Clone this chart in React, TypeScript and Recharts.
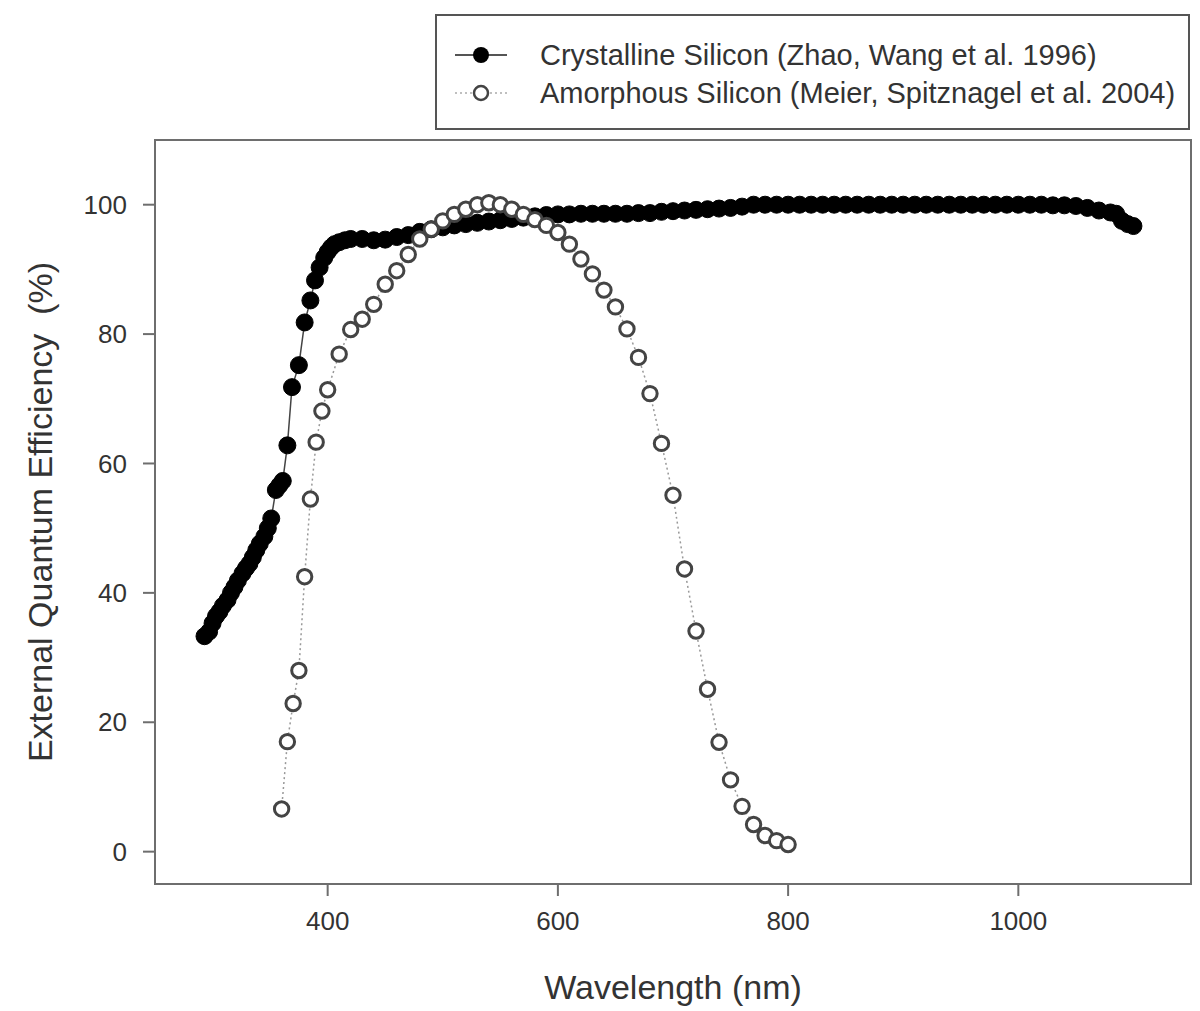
import { LineChart, Line, XAxis, YAxis, ReferenceArea, Legend, Label } from 'recharts';

const FONT = '"Liberation Sans", Arial, Helvetica, sans-serif';
const AXIS_GREY = '#6e6e6e';

// Crystalline silicon (Zhao, Wang et al. 1996)
const crystallineWavelength = [
  293, 297, 300, 303, 306, 309, 313, 316, 319, 322, 326, 329, 332, 335, 338, 341, 345, 348, 351, 355,
  358, 361, 365, 369, 375, 380, 385, 389, 393, 397, 400, 403, 406, 410, 415, 420, 430, 440, 450, 460,
  470, 480, 490, 500, 510, 520, 530, 540, 550, 560, 570, 580, 590, 600, 610, 620, 630, 640, 650, 660,
  670, 680, 690, 700, 710, 720, 730, 740, 750, 760, 770, 780, 790, 800, 810, 820, 830, 840, 850, 860,
  870, 880, 890, 900, 910, 920, 930, 940, 950, 960, 970, 980, 990, 1000, 1010, 1020, 1030, 1040, 1050,
  1060, 1070, 1080, 1085, 1090, 1095, 1100,
];
const crystallineEqe = [
  33.3, 34.0, 35.3, 36.4, 37.1, 38.0, 38.9, 40.0, 40.9, 41.9, 43.0, 43.8, 44.5, 45.5, 46.6, 47.6, 48.7, 50.0, 51.5, 55.9,
  56.6, 57.3, 62.8, 71.8, 75.2, 81.8, 85.2, 88.3, 90.3, 91.8, 92.7, 93.4, 93.9, 94.2, 94.5, 94.7, 94.7, 94.5, 94.6, 95.0,
  95.3, 95.8, 96.2, 96.5, 96.8, 97.0, 97.2, 97.4, 97.6, 97.8, 98.0, 98.2, 98.4, 98.5, 98.5, 98.6, 98.6, 98.6, 98.6, 98.6,
  98.7, 98.7, 98.9, 99.0, 99.1, 99.2, 99.3, 99.4, 99.5, 99.7, 100.0, 100.0, 100.0, 100.0, 100.0, 100.0, 100.0, 100.0, 100.0, 100.0,
  100.0, 100.0, 100.0, 100.0, 100.0, 100.0, 100.0, 100.0, 100.0, 100.0, 100.0, 100.0, 100.0, 100.0, 100.0, 100.0, 99.9, 99.9, 99.8,
  99.5, 99.1, 98.8, 98.6, 97.5, 97.0, 96.7,
];

// Amorphous silicon (Meier, Spitznagel et al. 2004)
const amorphousWavelength = [
  360, 365, 370, 375, 380, 385, 390, 395, 400, 410, 420, 430, 440, 450, 460, 470, 480, 490, 500, 510,
  520, 530, 540, 550, 560, 570, 580, 590, 600, 610, 620, 630, 640, 650, 660, 670, 680, 690, 700, 710,
  720, 730, 740, 750, 760, 770, 780, 790, 800,
];
const amorphousEqe = [
  6.6, 17.0, 22.9, 28.0, 42.5, 54.5, 63.3, 68.1, 71.4, 76.9, 80.7, 82.3, 84.6, 87.7, 89.8, 92.3, 94.7, 96.2, 97.5, 98.5,
  99.3, 100.0, 100.3, 100.0, 99.3, 98.5, 97.7, 96.8, 95.7, 93.9, 91.6, 89.3, 86.8, 84.2, 80.8, 76.4, 70.8, 63.1, 55.1, 43.7,
  34.1, 25.1, 16.9, 11.1, 7.0, 4.2, 2.5, 1.7, 1.1,
];

const xTicks = [400, 600, 800, 1000];
const yTicks = [0, 20, 40, 60, 80, 100];

const seriesNames = [
  'Crystalline Silicon (Zhao, Wang et al. 1996)',
  'Amorphous Silicon (Meier, Spitznagel et al. 2004)',
];

const crystallineData = crystallineWavelength.map((x, i) => ({ x, y: crystallineEqe[i] }));
const amorphousData = amorphousWavelength.map((x, i) => ({ x, y: amorphousEqe[i] }));

function LegendBox() {
  const row = { display: 'flex', alignItems: 'center', height: 38 } as const;
  return (
    <div
      style={{
        width: 755,
        height: 116,
        boxSizing: 'border-box',
        border: '2px solid #555',
        background: '#fff',
        paddingTop: 20,
        fontFamily: FONT,
        fontSize: 29,
        color: '#333',
      }}
    >
      <div style={row}>
        <svg width={103} height={24} style={{ flex: 'none' }}>
          <line x1={18} y1={12} x2={70} y2={12} stroke="#555" strokeWidth={2} />
          <circle cx={44} cy={12} r={8} fill="#000" />
        </svg>
        <span>{seriesNames[0]}</span>
      </div>
      <div style={row}>
        <svg width={103} height={24} style={{ flex: 'none' }}>
          <line x1={18} y1={12} x2={70} y2={12} stroke="#aaa" strokeWidth={1.5} strokeDasharray="2 3" />
          <circle cx={44} cy={12} r={7} fill="#fff" stroke="#444" strokeWidth={2.5} />
        </svg>
        <span>{seriesNames[1]}</span>
      </div>
    </div>
  );
}

export default function App() {
  return (
    <LineChart width={1192} height={1003} margin={{ top: 132, right: 9, bottom: 47, left: 47 }}>
      <ReferenceArea
        x1={250}
        x2={1150}
        y1={-5}
        y2={110}
        fill="none"
        stroke={AXIS_GREY}
        strokeWidth={2}
        ifOverflow="visible"
      />
      <XAxis
        type="number"
        dataKey="x"
        domain={[250, 1150]}
        ticks={xTicks}
        allowDataOverflow
        height={80}
        tickSize={12}
        tickMargin={16}
        stroke={AXIS_GREY}
        strokeWidth={2}
        tick={{ fill: '#333', fontSize: 26, fontFamily: FONT }}
      >
        <Label
          value="Wavelength (nm)"
          position="bottom"
          offset={11}
          fill="#333"
          fontSize={34}
          fontFamily={FONT}
        />
      </XAxis>
      <YAxis
        type="number"
        dataKey="y"
        domain={[-5, 110]}
        ticks={yTicks}
        allowDataOverflow
        width={100}
        tickSize={12}
        tickMargin={16}
        stroke={AXIS_GREY}
        strokeWidth={2}
        tick={{ fill: '#333', fontSize: 26, fontFamily: FONT }}
      >
        <Label
          value={'External Quantum Efficiency\u00A0 (%)'}
          angle={-90}
          position="left"
          offset={15}
          fill="#333"
          fontSize={34}
          fontFamily={FONT}
          style={{ textAnchor: 'middle' }}
        />
      </YAxis>
      <Legend
        layout="vertical"
        align="center"
        verticalAlign="middle"
        content={() => <LegendBox />}
        wrapperStyle={{ position: 'absolute', left: 427, top: 6, width: 755 }}
      />
      <Line
        data={crystallineData}
        dataKey="y"
        name={seriesNames[0]}
        stroke="#444"
        strokeWidth={1.5}
        dot={{ r: 8.5, fill: '#000', stroke: '#000', strokeWidth: 1 }}
        activeDot={false}
        isAnimationActive={false}
      />
      <Line
        data={amorphousData}
        dataKey="y"
        name={seriesNames[1]}
        stroke="#999"
        strokeWidth={1.5}
        strokeDasharray="2 3"
        dot={{ r: 7.2, fill: '#fff', stroke: '#444', strokeWidth: 3, strokeDasharray: 'none' }}
        activeDot={false}
        isAnimationActive={false}
      />
    </LineChart>
  );
}
